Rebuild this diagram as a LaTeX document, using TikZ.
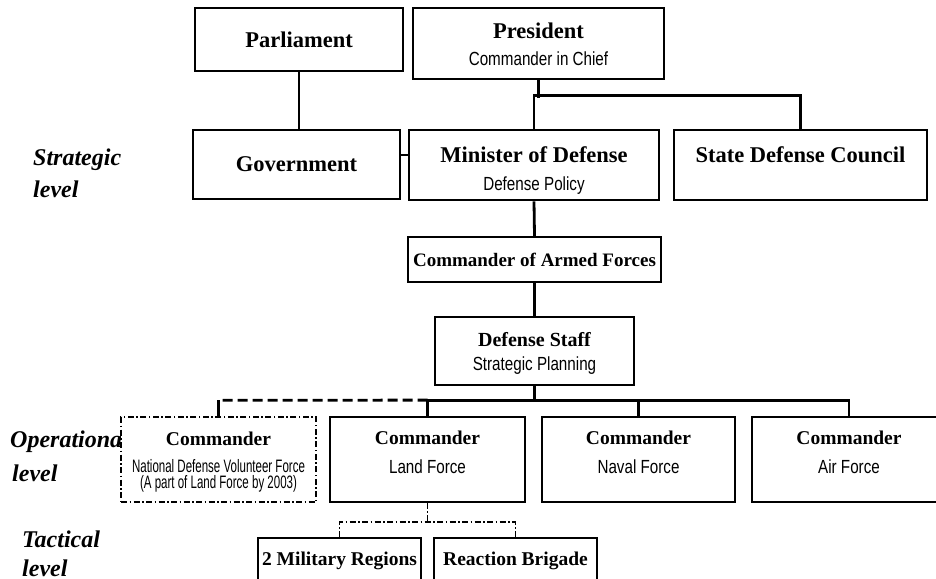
\documentclass[tikz,border=0pt]{standalone}
\usepackage{fontspec}
\setmainfont{Liberation Serif}
\newfontfamily\subfamily[FakeStretch=0.8]{Liberation Sans}
\newfontfamily\narrowfamily[FakeStretch=0.64]{Liberation Sans}
\usetikzlibrary{calc}
\newcommand\tfnt[1]{\fontsize{#1}{#1}\selectfont\bfseries}
\newcommand\sfnt{\subfamily\fontsize{19}{19}\selectfont\mdseries}
\newcommand\nfnt{\narrowfamily\fontsize{18}{18}\selectfont\mdseries}
\newcommand\twoline[3]{\vtop{\baselineskip=#1pt\lineskiplimit=-100pt\lineskip=0pt
  \halign{\hfil##\hfil\cr #2\cr #3\cr}}}
\newcommand\threeline[5]{\vtop{\baselineskip=#2pt\lineskiplimit=-100pt\lineskip=0pt
  \halign{\hfil##\hfil\cr #3\cr\noalign{\vskip #1pt} #4\cr #5\cr}}}
\begin{document}
\begin{tikzpicture}[x=1pt,y=-1pt,
  box/.style={draw, line width=2.7pt, fill=white, inner sep=0pt},
  midbox/.style={box, line width=2.3pt},
  cmdbox/.style={box, line width=1.8pt},
  ddbox/.style={box, line width=1.4pt, dash pattern=on 6pt off 2.5pt on 1.5pt off 2.5pt},
  conn/.style={line width=2.8pt},
  dashconn/.style={conn, dash pattern=on 10pt off 5pt},
  ddconn/.style={line width=1.4pt, dash pattern=on 6pt off 2.5pt on 1.5pt off 2.5pt},
  lvl/.style={font=\fontsize{24}{24}\selectfont\bfseries\itshape, inner sep=0pt, anchor=base west}]
\clip (0,0) rectangle (936,578);
\fill[white] (0,0) rectangle (936,578);

% level labels
\node[lvl] (ls1) at (33,165) {Strategic};
\node[lvl] (ls2) at (33,197) {level};
\node[lvl] (lo1) at (10,447) {Operationa};
\node[lvl] (lo2) at (12,481) {level};
\node[lvl] (lt1) at (22,547) {Tactical};
\node[lvl] (lt2) at (22,576) {level};

% strategic level
\node[box, minimum width=208, minimum height=63, text height=17pt, text depth=0pt] (parl) at (299,39.5)
  {\tfnt{22.5}Parliament};
\node[box, minimum width=251, minimum height=71, text height=0pt, text depth=11pt] (pres) at (538.5,43.5)
  {\twoline{27}{\tfnt{22.5}President}{\sfnt Commander in Chief}};
\node[box, minimum width=207, minimum height=69, text height=13pt, text depth=0pt] (gov) at (296.5,164.5)
  {\tfnt{22.5}Government};
\node[box, minimum width=250, minimum height=70, text height=0pt, text depth=6pt] (min) at (534,165)
  {\twoline{28}{\tfnt{22.5}Minister of Defense}{\sfnt Defense Policy}};
\node[box, minimum width=253, minimum height=70, text height=0pt, text depth=6pt] (sdc) at (800.5,165)
  {\tfnt{22.5}State Defense Council};
\node[midbox, minimum width=253, minimum height=45, text height=14.5pt, text depth=0pt] (caf) at (534.5,259.5)
  {\tfnt{19}Commander of Armed Forces};
\node[midbox, minimum width=199, minimum height=68, text height=0pt, text depth=10pt] (ds) at (534.5,351)
  {\twoline{24}{\tfnt{20}Defense Staff}{\sfnt Strategic Planning}};

% operational level
\node[ddbox, minimum width=195, minimum height=85, text height=0pt, text depth=29pt] (ndvf) at (218.5,459.5)
  {\threeline{10.5}{16.5}{\tfnt{19.5}Commander}{\nfnt National Defense Volunteer Force}{\nfnt (A part of Land Force by 2003)}};
\node[cmdbox, minimum width=195, minimum height=85, text height=0pt, text depth=31pt] (land) at (427.5,459.5)
  {\twoline{29}{\tfnt{19.5}Commander}{\sfnt Land Force}};
\node[cmdbox, minimum width=193, minimum height=85, text height=0pt, text depth=31pt] (naval) at (638.5,459.5)
  {\twoline{29}{\tfnt{19.5}Commander}{\sfnt Naval Force}};
\node[cmdbox, minimum width=194, minimum height=85, text height=0pt, text depth=31pt] (air) at (849,459.5)
  {\twoline{29}{\tfnt{19.5}Commander}{\sfnt Air Force}};

% tactical level
\node[cmdbox, minimum width=163, minimum height=42, text height=12pt, text depth=0pt] (mr) at (339.5,559)
  {\tfnt{19.5}2 Military Regions};
\node[cmdbox, minimum width=163, minimum height=42, text height=12pt, text depth=0pt] (rb) at (515.5,559)
  {\tfnt{19.5}Reaction Brigade};

% connectors
\draw[conn] (parl.south) -- (parl.south |- gov.north);
\draw[conn] ($(gov.east)+(0,-9.5)$) -- ($(min.west)+(0,-10)$);
\draw[conn] (pres.south) -- ++(0,18);
\draw[conn] (min.north) -- ++(0,-33) -| (sdc.north);
\draw[conn] (min.south) -- (caf.north);
\draw[conn] (caf.south) -- (ds.north);
\draw[conn] (ds.south) -- ++(0,16);
\draw[conn] (land.north) -- ++(0,-16) -| (air.north);
\draw[conn] (naval.north) -- ++(0,-16);
\draw[dashconn] ($(land.north)+(0,-16)$) -- ($(ndvf.north)+(0,-16)$);
\draw[conn] ($(ndvf.north)+(0,-16)$) -- (ndvf.north);
\draw[ddconn] (land.south) -- ++(0,21);
\draw[ddconn] (mr.north) -- ++(0,-15) -| (rb.north);
\end{tikzpicture}
\end{document}
